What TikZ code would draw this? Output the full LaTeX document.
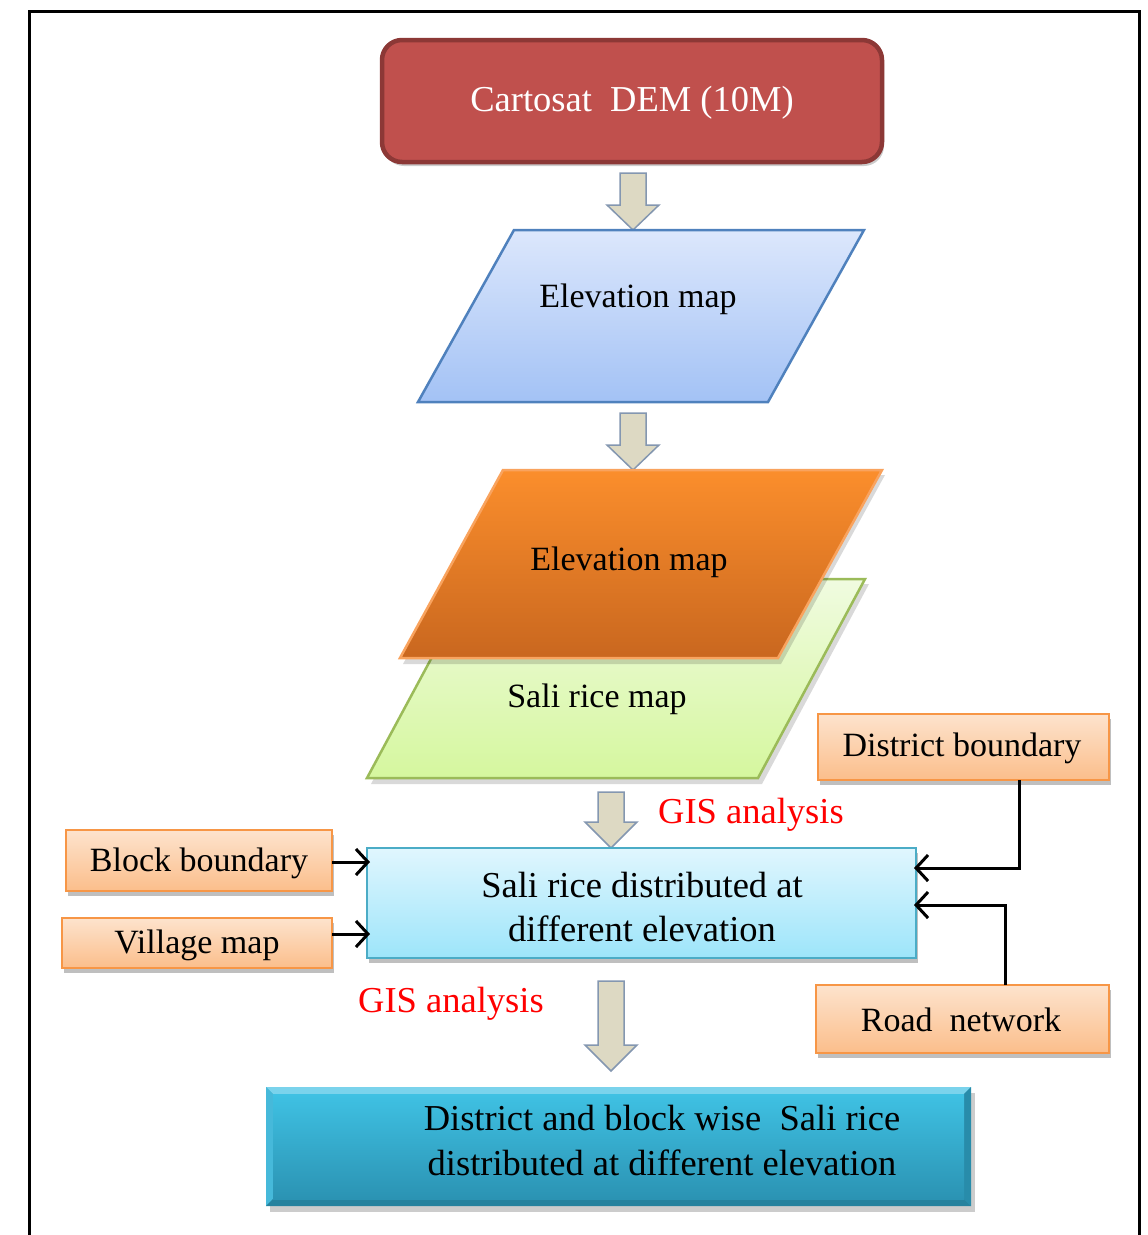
\documentclass[tikz,border=0pt]{standalone}
\usepackage{fontspec}
\setmainfont{Liberation Serif}
\usetikzlibrary{arrows.meta,shadows}
\definecolor{redfill}{HTML}{C0504D}
\definecolor{redline}{HTML}{8C3836}
\definecolor{arrfill}{HTML}{DDD9C3}
\definecolor{arrline}{HTML}{8497B0}
\definecolor{blueline}{HTML}{4F81BD}
\definecolor{bluetop}{HTML}{DCE7FC}
\definecolor{bluebot}{HTML}{A3C2F5}
\definecolor{orline}{HTML}{F9A35E}
\definecolor{ortop}{HTML}{FB8E2C}
\definecolor{orbot}{HTML}{C9671F}
\definecolor{grline}{HTML}{9BBB59}
\definecolor{grtop}{HTML}{F0FBE0}
\definecolor{grbot}{HTML}{D5F79E}
\definecolor{cyline}{HTML}{4BACC6}
\definecolor{cytop}{HTML}{E0F6FE}
\definecolor{cybot}{HTML}{9DE5FA}
\definecolor{smline}{HTML}{F79646}
\definecolor{smtop}{HTML}{FDE3CD}
\definecolor{smbot}{HTML}{FBBE8B}
\definecolor{fintop}{HTML}{3FC1E3}
\definecolor{finbot}{HTML}{2B93B3}
\definecolor{finline}{HTML}{2A8AA6}
\definecolor{bevtop}{HTML}{7AD3EC}
\definecolor{bevleft}{HTML}{46B9DA}
\definecolor{bevbot}{HTML}{26829E}
\definecolor{bevright}{HTML}{288CAA}
\tikzset{
  txt/.style={font=\fontsize{34}{44}\selectfont, inner sep=0pt, align=center},
  blockarr/.style={fill=arrfill, draw=arrline, line width=1.5pt, line join=miter},
  smallbox/.style={draw=smline, line width=2.5pt, top color=smtop, bottom color=smbot,
     drop shadow={shadow xshift=2pt, shadow yshift=-5pt, opacity=0.25, fill=black}},
  conn/.style={line width=3pt, -{Straight Barb[length=12pt,width=26pt]}},
  gis/.style={font=\fontsize{36.5}{40}\selectfont, text=red, inner sep=0pt}
}
\newcommand{\blkarrow}[5]{% xleft xright ytop yhead ytip; head extends 13 each side
  \draw[blockarr] (#1,#3) -- (#2,#3) -- (#2,#4) -- ({#2+13},#4) -- ({(#1+#2)/2},#5)
     -- ({#1-13},#4) -- (#1,#4) -- cycle;}
\begin{document}
\begin{tikzpicture}[x=1pt,y=1pt]
\useasboundingbox (0,0) rectangle (1148,-1235);
% outer frame
\draw[line width=3pt] (29,-1245) -- (29,-11) -- (1139,-11) -- (1139,-1245);

% Cartosat DEM
\draw[fill=redfill, draw=redline, line width=4.5pt, rounded corners=20pt,
   drop shadow={shadow xshift=2pt, shadow yshift=-4pt, opacity=0.2, fill=black}]
   (382,-40) rectangle (882,-162);
\node[txt, text=white, font=\fontsize{36.5}{44}\selectfont] (cart) at (632,-103) {Cartosat\ \ DEM (10M)};

% arrow 1
\blkarrow{620}{646}{-173}{-205}{-230}

% Elevation map (blue)
\shade[top color=bluetop, bottom color=bluebot] (514,-230) -- (864,-230) -- (768,-402) -- (418,-402) -- cycle;
\draw[blueline, line width=2.5pt, line join=miter] (514,-230) -- (864,-230) -- (768,-402) -- (418,-402) -- cycle;
\node[txt] (elev1) at (638,-299) {Elevation map};

% arrow 2
\blkarrow{620}{646}{-413}{-445}{-470}

% Sali rice map (green)
\fill[black, opacity=0.15] (478,-584) -- (869,-584) -- (762,-784) -- (371,-784) -- cycle;
\shade[top color=grtop, bottom color=grbot] (474,-579) -- (865,-579) -- (758,-778) -- (367,-778) -- cycle;
\draw[grline, line width=2.5pt, line join=miter] (474,-579) -- (865,-579) -- (758,-778) -- (367,-778) -- cycle;
\node[txt] (sali) at (597,-699) {Sali rice map};

% Elevation map (orange)
\fill[black, opacity=0.15] (506,-475) -- (885,-475) -- (781,-664) -- (403,-664) -- cycle;
\shade[top color=ortop, bottom color=orbot] (503,-470) -- (882,-470) -- (778,-658) -- (400,-658) -- cycle;
\draw[orline, line width=2.5pt, line join=miter] (503,-470) -- (882,-470) -- (778,-658) -- (400,-658) -- cycle;
\node[txt] (elev2) at (629,-562) {Elevation map};

% arrow 3
\blkarrow{598}{624}{-792}{-822}{-848}
\node[gis, anchor=west] (gis1) at (658,-815) {GIS analysis};

% Sali rice distributed box
\draw[draw=cyline, line width=2.5pt, top color=cytop, bottom color=cybot,
   drop shadow={shadow xshift=2pt, shadow yshift=-5pt, opacity=0.25, fill=black}]
   (367,-848) rectangle (916,-958);
\node[txt, font=\fontsize{36.5}{44}\selectfont] (dist) at (642,-907) {Sali rice distributed at\\ different elevation};
\coordinate (distW1) at (370,-862);
\coordinate (distW2) at (370,-934);
\coordinate (distE1) at (914,-868);
\coordinate (distE2) at (914,-905);

% small input boxes
\draw[smallbox] (66,-830) rectangle (332,-891);
\node[txt] (block) at (199,-863) {Block boundary};
\coordinate (blockE) at (332,-862);
\draw[smallbox] (62,-918) rectangle (332,-968);
\node[txt] (vill) at (197,-945) {Village map};
\coordinate (villE) at (332,-934);
\draw[smallbox] (818,-714) rectangle (1109,-780);
\node[txt] (distb) at (962,-748) {District boundary};
\coordinate (distbS) at (1019,-780);
\draw[smallbox] (816,-985) rectangle (1109,-1053);
\node[txt] (road) at (961,-1020) {Road\ \ network};
\coordinate (roadN) at (1005,-985);

% connectors
\draw[conn] (blockE) -- (distW1);
\draw[conn] (villE) -- (distW2);
\draw[conn] (distbS) |- (distE1);
\draw[conn] (roadN) |- (distE2);

% GIS analysis 2 and arrow 4
\node[gis] (gis2) at (451,-1004) {GIS analysis};
\blkarrow{598}{624}{-981}{-1045}{-1071}

% final box with bevel
\fill[black, opacity=0.2] (270,-1093) rectangle (975,-1212);
\fill[finline] (266,-1087) rectangle (971,-1206);
\fill[bevtop] (266,-1087) -- (971,-1087) -- (964,-1094) -- (273,-1094) -- cycle;
\fill[bevleft] (266,-1087) -- (273,-1094) -- (273,-1199) -- (266,-1206) -- cycle;
\fill[bevbot] (266,-1206) -- (273,-1199) -- (964,-1199) -- (971,-1206) -- cycle;
\fill[bevright] (971,-1087) -- (964,-1094) -- (964,-1199) -- (971,-1206) -- cycle;
\shade[top color=fintop, bottom color=finbot] (273,-1094) rectangle (964,-1199);
\node[txt, font=\fontsize{36.5}{45}\selectfont] (final) at (662,-1140) {District and block wise\ \ Sali rice\\ distributed at different elevation};
\end{tikzpicture}
\end{document}
